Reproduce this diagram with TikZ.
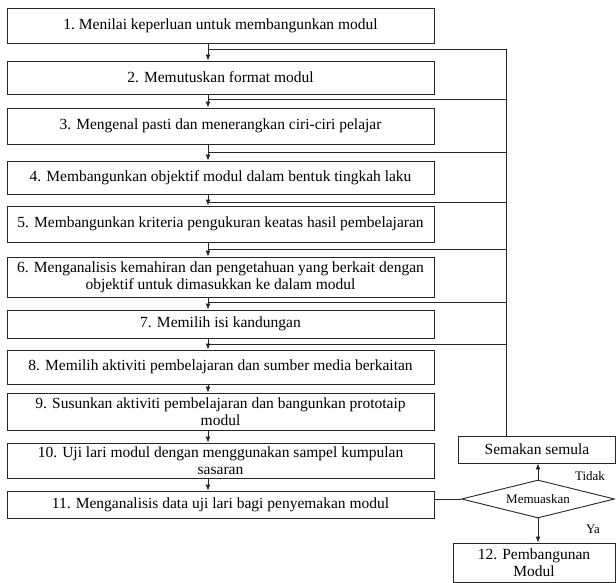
\documentclass[tikz,border=0pt]{standalone}
\usepackage{fontspec}
\setmainfont{Liberation Serif}
\newfontfamily\stepfont{Liberation Serif}
\usetikzlibrary{arrows.meta,positioning,shapes.geometric}

\begin{document}
\begin{tikzpicture}[x=1pt,y=-1pt,>={Latex[length=6pt,width=5pt]},
  every node/.style={font=\stepfont\fontsize{15.5}{17}\selectfont},
  stepbox/.style={draw,line width=0.9pt,minimum width=427pt,inner sep=0pt,align=center},
  small/.style={font=\stepfont\fontsize{13}{14}\selectfont}]
  \useasboundingbox (0,0) rectangle (616,583);
  \tikzset{every path/.style={line width=0.9pt,draw=black!85}}
  % main column of steps
  \node[stepbox,minimum height=35pt] (b1) at (220.5,25.5) {1.\ Menilai keperluan untuk membangunkan modul};
  \node[stepbox,minimum height=33pt] (b2) at (220.5,77.5) {2. Memutuskan format modul};
  \node[stepbox,minimum height=36pt] (b3) at (220.5,126) {3. Mengenal pasti dan menerangkan ciri-ciri pelajar};
  \node[stepbox,minimum height=33pt] (b4) at (220.5,177.5) {4. Membangunkan objektif modul dalam bentuk tingkah laku};
  \node[stepbox,minimum height=36pt] (b5) at (220.5,224) {5. Membangunkan kriteria pengukuran keatas hasil pembelajaran};
  \node[stepbox,minimum height=40pt] (b6) at (220.5,277) {6. Menganalisis kemahiran dan pengetahuan yang berkait dengan\\objektif untuk dimasukkan ke dalam modul};
  \node[stepbox,minimum height=28pt] (b7) at (220.5,324) {7. Memilih isi kandungan};
  \node[stepbox,minimum height=34pt] (b8) at (220.5,367) {8. Memilih aktiviti pembelajaran dan sumber media berkaitan};
  \node[stepbox,minimum height=37pt] (b9) at (220.5,411.5) {9. Susunkan aktiviti pembelajaran dan bangunkan prototaip\\modul};
  \node[stepbox,minimum height=35pt] (b10) at (220.5,460.5) {10. Uji lari modul dengan menggunakan sampel kumpulan\\sasaran};
  \node[stepbox,minimum height=27pt] (b11) at (220.5,504.5) {11. Menganalisis data uji lari bagi penyemakan modul};
  % right side
  \node[draw,minimum width=157pt,minimum height=27pt,inner sep=0pt] (rev) at (537,449.5) {Semakan semula};
  \node[draw,diamond,aspect=4,inner sep=0pt,minimum width=153pt,minimum height=38pt,small] (chk) at (538,499) {Memuaskan};
  \node[draw,minimum width=162pt,minimum height=39pt,inner sep=0pt,align=center] (fin) at (534,562.5) {12. Pembangunan\\Modul};
  \coordinate (ax) at (208,0);
  \coordinate (fb) at (506,49);
  \foreach \a/\b in {b1/b2,b2/b3,b3/b4,b4/b5,b5/b6,b6/b7,b7/b8,b8/b9,b9/b10,b10/b11}
    \draw[->] (\a.south -| ax) -- (\b.north -| ax);
  % feedback lines back into each step
  \foreach \y in {49,99,152,202,249,302,344}
    \draw (208,\y) -- (506,\y);
  \draw (fb) -- (rev.north -| fb);
  \draw (b11.east |- chk.west) -- (chk.west);
  \draw[->] (chk.north) -- (chk.north |- rev.south);
  \draw[->] (chk.south) -- (chk.south |- fin.north);
  \node[small] (no) at (590,476) {Tidak};
  \node[small] (yes) at (593,529) {Ya};
\end{tikzpicture}
\end{document}
